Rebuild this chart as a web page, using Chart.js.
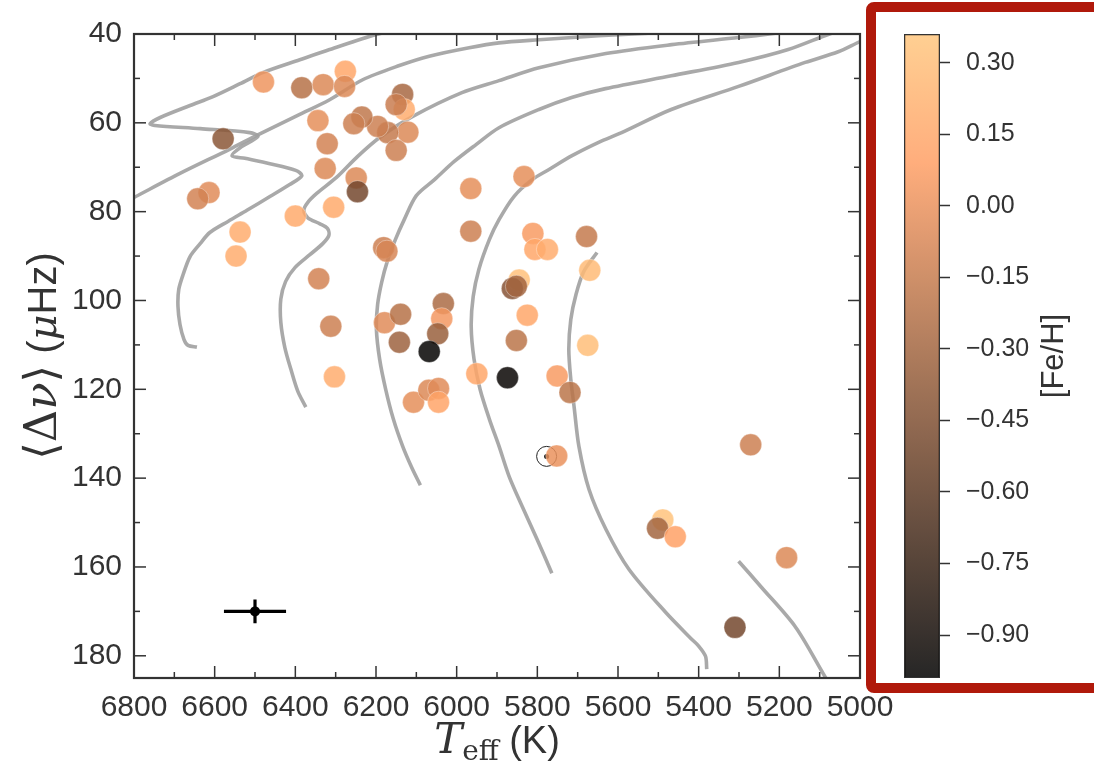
<!DOCTYPE html>
<html>
<head>
<meta charset="utf-8">
<script src="https://cdn.jsdelivr.net/npm/chart.js@4.4.1/dist/chart.umd.min.js"></script>
<style>
  html, body { margin: 0; padding: 0; background: #fff; }
  #wrap { position: relative; width: 1094px; height: 769px; overflow: hidden; }
  #main { position: absolute; left: 0; top: 0; }
  #cbar { position: absolute; left: 880px; top: 0; }
  #frame { position: absolute; left: 866px; top: 2px; width: 260px; height: 671px;
           border: 10px solid #b0190b; border-radius: 8px; }
</style>
</head>
<body>
<div id="wrap">
  <canvas id="main" width="1094" height="769"></canvas>
  <div id="frame"></div>
  <canvas id="cbar" width="214" height="769"></canvas>
</div>
<script>
// stars: effective temperature (K), large separation (muHz), metallicity
const teff = [6479, 6384, 6331, 6276, 6278, 6134, 6130, 6150, 6121, 6171,
              6196, 6235, 6255, 6344, 6321, 6150, 6326, 6579, 6249, 6246,
              6305, 6400, 6614, 6642, 6537, 6547, 6342, 6312, 6303, 6181,
              6173, 6179, 6139, 6142, 6033, 6037, 6047, 6068, 6107, 6069,
              6045, 6045, 5965, 5965, 5833, 5811, 5806, 5775, 5845, 5862,
              5852, 5825, 5852, 5950, 5874, 5751, 5719, 5678, 5670, 5675,
              5752, 5271, 5489, 5502, 5458, 5182, 5310];
const dnu  = [50.8, 52.1, 51.4, 48.4, 51.8, 53.6, 57.0, 55.9, 62.1, 62.2,
              60.8, 58.7, 60.2, 59.5, 64.7, 66.2, 70.3, 63.6, 72.4, 75.5,
              79.0, 81.0, 75.7, 77.1, 84.6, 90.0, 95.1, 105.8, 117.2, 88.1,
              88.9, 105.0, 103.1, 109.4, 100.7, 104.1, 107.5, 111.5, 122.9, 120.2,
              119.8, 122.9, 74.8, 84.4, 72.1, 84.9, 88.5, 88.5, 95.4, 97.3,
              96.8, 103.3, 109.0, 116.5, 117.4, 117.0, 120.7, 85.6, 93.2, 110.1,
              135.0, 132.5, 149.4, 151.3, 153.2, 157.9, 173.6];
const feh  = [0.02, -0.22, -0.06, 0.14, -0.06, -0.28, 0.18, -0.14, -0.06, -0.16,
              -0.12, -0.18, -0.12, -0.02, -0.10, -0.12, -0.06, -0.40, -0.06, -0.50,
              0.16, 0.16, -0.04, -0.10, 0.18, 0.18, -0.10, -0.12, 0.18, -0.12,
              -0.08, -0.04, -0.22, -0.32, -0.26, 0.04, -0.34, -0.97, -0.02, -0.06,
              -0.04, 0.12, -0.02, -0.12, -0.02, 0.06, 0.14, 0.18, 0.32, -0.42,
              -0.30, 0.14, -0.20, 0.14, -0.95, 0.06, -0.20, -0.16, 0.28, 0.30,
              0.00, -0.12, 0.33, -0.30, 0.10, -0.06, -0.50];

// evolutionary tracks, [Teff, dnu]
const track1 = [[6644, 110.5], [6666, 110.1], [6676, 108.8], [6686, 105.4], [6691, 101.3],
                [6689, 97.5], [6678, 94.1], [6661, 90.1], [6636, 87.2], [6612, 84.7],
                [6567, 82.2], [6520, 79.7], [6463, 76.6], [6414, 73.9], [6384, 71.9],
                [6399, 70.7], [6463, 69.2], [6525, 68.0], [6557, 67.4], [6537, 65.6],
                [6493, 63.1], [6513, 62.2], [6636, 61.3], [6748, 60.6], [6760, 60.2],
                [6735, 58.8], [6661, 56.1], [6604, 54.1], [6537, 51.2], [6481, 48.7],
                [6389, 45.8], [6315, 43.5], [6199, 40.1], [6090, 37.9]];
const track2 = [[6834, 78.4], [6800, 76.8], [6686, 71.4], [6562, 65.9], [6493, 62.7],
                [6389, 58.1], [6315, 54.8], [6233, 50.3], [6142, 47.1], [6068, 45.0],
                [5969, 43.1], [5895, 42.0], [5796, 41.3], [5648, 40.4], [5500, 39.7]];
const track3 = [[6374, 124.0], [6394, 120.4], [6411, 115.5], [6426, 110.6], [6436, 104.9],
                [6436, 99.7], [6424, 95.7], [6401, 92.6], [6364, 89.7], [6332, 87.2],
                [6317, 85.4], [6320, 83.8], [6340, 82.7], [6369, 81.4], [6379, 79.7],
                [6369, 77.9], [6347, 75.9], [6298, 72.3], [6246, 67.6], [6191, 63.3],
                [6110, 58.6], [5987, 53.2], [5895, 50.5], [5796, 47.6], [5630, 44.4],
                [5467, 42.4], [5301, 40.8], [5215, 39.9], [5153, 39.2]];
const track4 = [[6090, 141.6], [6112, 137.5], [6134, 132.8], [6157, 126.7], [6176, 120.0],
                [6191, 113.2], [6199, 106.5], [6196, 100.9], [6186, 95.9], [6172, 91.2],
                [6152, 86.3], [6130, 81.8], [6100, 76.4], [6055, 72.8], [6006, 68.7],
                [5952, 64.9], [5895, 61.1], [5796, 57.0], [5715, 54.3], [5631, 52.3],
                [5468, 49.4], [5301, 46.4], [5178, 43.5], [5079, 40.1], [5029, 38.6]];
const track5 = [[5764, 161.4], [5801, 153.7], [5838, 146.3], [5870, 139.6], [5895, 132.8],
                [5919, 126.7], [5942, 120.0], [5957, 113.2], [5964, 105.8], [5959, 99.1],
                [5945, 93.0], [5919, 86.3], [5895, 81.8], [5858, 76.6], [5813, 72.8],
                [5771, 70.5], [5714, 67.4], [5648, 64.4], [5591, 62.2], [5468, 57.0],
                [5301, 51.8], [5136, 46.4], [5054, 44.0], [5000, 41.7], [4956, 40.1]];
const track6 = [[5380, 183.0], [5383, 180.1], [5400, 177.8], [5418, 176.2], [5482, 170.2],
                [5573, 160.5], [5630, 151.5], [5672, 142.5], [5697, 132.8], [5709, 123.8],
                [5717, 117.8], [5722, 111.0], [5717, 104.3], [5704, 98.6], [5685, 93.5],
                [5652, 89.2]];
const track7 = [[5301, 158.7], [5245, 164.5], [5160, 173.5], [5086, 184.8], [5067, 187.5]];
const tracks = [track1, track2, track3, track4, track5, track6, track7];

// the Sun and a typical error bar
const sunTeff = 5777, sunDnu = 135.1;
const errTeff = 6500, errDnu = 170, errTeffSize = 77, errDnuSize = 2.7;

// axes
const xTicks = [6800, 6600, 6400, 6200, 6000, 5800, 5600, 5400, 5200, 5000];
const yTicks = [40, 60, 80, 100, 120, 140, 160, 180];
const xMinorStep = 100, yMinorStep = 10;
const fehMin = -0.99, fehMax = 0.36;
const cbarTicks = [0.30, 0.15, 0.00, -0.15, -0.30, -0.45, -0.60, -0.75, -0.90];

const pointAlpha = 0.85;

// matplotlib 'copper'
function fehColor(v, alpha) {
  const s = Math.min(1, Math.max(0, (v - fehMin) / (fehMax - fehMin)));
  const r = Math.min(1, 1.25 * s), g = 0.7812 * s, b = 0.4975 * s;
  return 'rgba(' + Math.round(r * 255) + ',' + Math.round(g * 255) + ',' + Math.round(b * 255) + ',' + alpha + ')';
}

function drawRuns(ctx, runs, cx, cy) {
  let total = 0;
  runs.forEach(r => { ctx.font = r.font; r.w = ctx.measureText(r.text).width; total += r.w; });
  let x = cx - total / 2;
  runs.forEach(r => {
    ctx.font = r.font;
    ctx.fillText(r.text, x, cy + (r.dy || 0));
    x += r.w;
  });
}

const serif = "'DejaVu Serif', 'Liberation Serif', serif";
const sans = "'Liberation Sans', Arial, sans-serif";
Chart.defaults.font.family = sans;
Chart.defaults.color = '#333';

// inward ticks on all four sides plus the box
const frameTicks = {
  id: 'frameTicks',
  afterDatasetsDraw(chart) {
    const { ctx, chartArea: a, scales: { x, y } } = chart;
    ctx.save();
    ctx.strokeStyle = '#333';
    ctx.lineWidth = 1.5;
    const line = (x1, y1, x2, y2) => { ctx.beginPath(); ctx.moveTo(x1, y1); ctx.lineTo(x2, y2); ctx.stroke(); };
    for (let t = x.min; t <= x.max; t += xMinorStep) {
      const px = x.getPixelForValue(t);
      const len = xTicks.includes(t) ? 12 : 6;
      line(px, a.bottom, px, a.bottom - len);
      line(px, a.top, px, a.top + len);
    }
    for (let v = y.min; v <= y.max; v += yMinorStep) {
      const py = y.getPixelForValue(v);
      const len = yTicks.includes(v) ? 12 : 6;
      line(a.left, py, a.left + len, py);
      line(a.right, py, a.right - len, py);
    }
    ctx.lineWidth = 2.2;
    ctx.strokeRect(a.left, a.top, a.width, a.height);
    ctx.restore();
  },
  afterDraw(chart) {
    const { ctx, chartArea: a } = chart;
    ctx.save();
    ctx.fillStyle = '#333';
    ctx.textBaseline = 'alphabetic';
    drawRuns(ctx, [
      { text: 'T', font: 'italic 42px ' + serif },
      { text: 'eff', font: '28px ' + serif, dy: 7 },
      { text: ' (K)', font: '38px ' + sans }
    ], (a.left + a.right) / 2, 753);
    ctx.translate(56, (a.top + a.bottom) / 2);
    ctx.rotate(-Math.PI / 2);
    drawRuns(ctx, [
      { text: '\u27E8\u0394', font: '45px ' + serif },
      { text: '\u03BD', font: 'italic 45px ' + serif },
      { text: '\u27E9', font: '45px ' + serif },
      { text: ' (', font: '40px ' + sans },
      { text: '\u03BC', font: 'italic 40px ' + serif },
      { text: 'Hz)', font: '40px ' + sans }
    ], 0, 0);
    ctx.restore();
  }
};

const trackSets = tracks.map(tr => ({
  data: tr.map(p => ({ x: p[0], y: p[1] })),
  showLine: true,
  pointRadius: 0,
  borderColor: 'rgba(160,160,160,0.9)',
  borderWidth: 3.6,
  tension: 0.3,
  clip: 0,
  order: 4
}));

new Chart(document.getElementById('main'), {
  type: 'scatter',
  data: {
    datasets: trackSets.concat([
      { // solar symbol
        data: [{ x: sunTeff, y: sunDnu }],
        pointRadius: 10, pointBackgroundColor: 'rgba(255,255,255,0)',
        pointBorderColor: '#222', pointBorderWidth: 1, order: 3
      },
      {
        data: [{ x: sunTeff, y: sunDnu }],
        pointRadius: 2.5, pointBackgroundColor: '#111', pointBorderWidth: 0, order: 3
      },
      {
        data: teff.map((t, i) => ({ x: t, y: dnu[i] })),
        pointRadius: 11,
        pointBackgroundColor: feh.map(v => fehColor(v, pointAlpha)),
        pointBorderColor: 'rgba(255,255,255,0.35)',
        pointBorderWidth: 1,
        order: 2
      },
      {
        data: [{ x: errTeff - errTeffSize, y: errDnu }, { x: errTeff + errTeffSize, y: errDnu }],
        showLine: true, pointRadius: 0, borderColor: '#000', borderWidth: 3.2, order: 1
      },
      {
        data: [{ x: errTeff, y: errDnu - errDnuSize }, { x: errTeff, y: errDnu + errDnuSize }],
        showLine: true, pointRadius: 0, borderColor: '#000', borderWidth: 3.2, order: 1
      },
      {
        data: [{ x: errTeff, y: errDnu }],
        pointRadius: 5, pointBackgroundColor: '#000', pointBorderWidth: 0, order: 1
      }
    ])
  },
  options: {
    responsive: false,
    animation: false,
    layout: { padding: { top: 34, right: 234, left: 0, bottom: 0 } },
    plugins: { legend: { display: false }, tooltip: { enabled: false } },
    scales: {
      x: {
        type: 'linear', reverse: true, min: 5000, max: 6800,
        afterBuildTicks: s => { s.ticks = xTicks.map(v => ({ value: v })); },
        afterFit: s => { s.height = 91; },
        grid: { display: false, drawTicks: false },
        border: { display: false },
        ticks: { padding: 12, maxRotation: 0, font: { size: 30 }, color: '#333', callback: v => String(v) }
      },
      y: {
        type: 'linear', reverse: true, min: 40, max: 185,
        afterBuildTicks: s => { s.ticks = yTicks.map(v => ({ value: v })); },
        afterFit: s => { s.width = 134; },
        grid: { display: false, drawTicks: false },
        border: { display: false },
        ticks: { padding: 12, font: { size: 30 }, color: '#333', callback: v => String(v) }
      }
    }
  },
  plugins: [frameTicks]
});

// colour bar
const cbarTitle = {
  id: 'cbarTitle',
  afterDraw(chart) {
    const { ctx, chartArea: a } = chart;
    ctx.save();
    ctx.fillStyle = '#333';
    ctx.font = '31px ' + sans;
    ctx.textAlign = 'center';
    ctx.textBaseline = 'middle';
    ctx.translate(174, (a.top + a.bottom) / 2);
    ctx.rotate(-Math.PI / 2);
    ctx.fillText('[Fe/H]', 0, 0);
    ctx.restore();
  }
};

function barGradient(context) {
  const chart = context.chart;
  const a = chart.chartArea;
  if (!a) return fehColor(0, pointAlpha);
  const g = chart.ctx.createLinearGradient(0, a.bottom, 0, a.top);
  const n = 40;
  for (let i = 0; i <= n; i++) {
    g.addColorStop(i / n, fehColor(fehMin + (fehMax - fehMin) * i / n, pointAlpha));
  }
  return g;
}

new Chart(document.getElementById('cbar'), {
  type: 'bar',
  data: {
    labels: [''],
    datasets: [{
      data: [[fehMin, fehMax]],
      backgroundColor: barGradient,
      borderColor: '#333',
      borderWidth: 1.5,
      borderSkipped: false,
      barPercentage: 1,
      categoryPercentage: 1
    }]
  },
  options: {
    responsive: false,
    animation: false,
    layout: { padding: { left: 24, top: 34, right: 0, bottom: 91 } },
    plugins: { legend: { display: false }, tooltip: { enabled: false } },
    scales: {
      x: { display: false },
      y: {
        position: 'right', min: fehMin, max: fehMax,
        afterBuildTicks: s => { s.ticks = cbarTicks.map(v => ({ value: v })); },
        afterFit: s => { s.width = 154; },
        grid: { drawOnChartArea: false, drawTicks: true, tickLength: 10, tickColor: '#333', tickWidth: 1.5 },
        border: { display: false },
        ticks: {
          padding: 16, font: { size: 25 }, color: '#333',
          callback: v => (v < 0 ? '\u2212' : '') + Math.abs(v).toFixed(2)
        }
      }
    }
  },
  plugins: [cbarTitle]
});
</script>
</body>
</html>
